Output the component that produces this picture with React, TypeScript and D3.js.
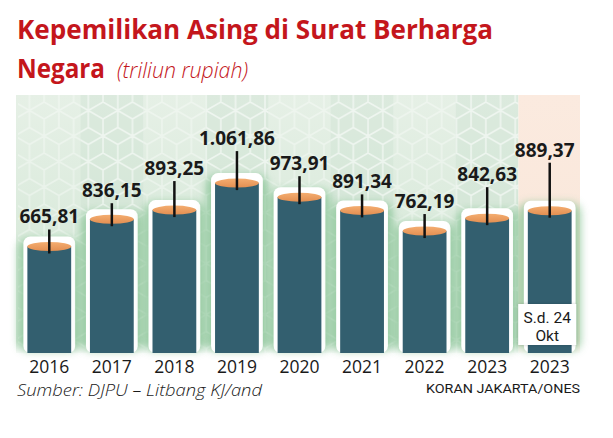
import React from "react";
import * as d3 from "d3";

const years = ["2016", "2017", "2018", "2019", "2020", "2021", "2022", "2023", "2023"];
const values = [665.81, 836.15, 893.25, 1061.86, 973.91, 891.34, 762.19, 842.63, 889.37];
const labelLift = [23, 22, 35, 38, 27, 22, 23, 37, 54];
const noteLines = ["S.d. 24", "Okt"];
const titleLine1 = "Kepemilikan Asing di Surat Berharga";
const titleLine2 = "Negara";
const unitText = "(triliun rupiah)";
const sourceText = "Sumber: DJPU – Litbang KJ/and";
const creditText = "KORAN JAKARTA/ONES";

const W = 613;
const H = 438;
const panelTop = 95;
const baseY = 353;

const idFmt = d3.formatLocale({ decimal: ",", thousands: ".", grouping: [3], currency: ["Rp", ""] }).format(",.2f");

export default function App() {
  const idx = values.map((_, i) => i);
  const x = d3.scaleBand<number>().domain(idx).range([18, 581]).paddingInner(0.3).paddingOuter(0.15);
  const y = d3.scaleLinear().domain([0, 1100]).range([baseY, baseY - 176]);
  const step = x.step();
  const colX = (i: number) => 18 + i * step;
  const bw = x.bandwidth();

  const s = 17;
  const a = s * Math.cos(Math.PI / 6);
  const hex = (cx: number, cy: number) => {
    const pts = [
      [cx, cy - s], [cx + a, cy - s / 2], [cx + a, cy + s / 2], [cx, cy + s], [cx - a, cy + s / 2], [cx - a, cy - s / 2],
    ];
    let d = "M" + pts.map((p) => p.join(",")).join("L") + "Z";
    d += `M${cx},${cy}L${cx - a},${cy - s / 2}M${cx},${cy}L${cx + a},${cy - s / 2}M${cx},${cy}L${cx},${cy + s}`;
    return d;
  };
  const hexPath = [
    hex(a, s), hex(a, 4 * s), hex(a, -2 * s), hex(0, 2.5 * s), hex(2 * a, 2.5 * s), hex(0, -0.5 * s), hex(2 * a, -0.5 * s),
  ].join("");

  return (
    <svg width={W} height={H} style={{ position: "absolute", left: 0, top: 0, background: "#fff" }}>
      <defs>
        <pattern id="cubes" width={2 * a} height={3 * s} patternUnits="userSpaceOnUse">
          <path d={hexPath} fill="none" stroke="#ffffff" strokeWidth={1.6} />
        </pattern>
        <linearGradient id="panelG" x1="0" y1="0" x2="0" y2="1">
          <stop offset="0" stopColor="#e6f0e6" />
          <stop offset="0.6" stopColor="#d9eadb" />
          <stop offset="1" stopColor="#cfe5d3" />
        </linearGradient>
        <linearGradient id="peachG" x1="0" y1="0" x2="0" y2="1">
          <stop offset="0" stopColor="#fbeadf" />
          <stop offset="1" stopColor="#f8e6d8" />
        </linearGradient>
        <linearGradient id="fadeB" x1="0" y1="0" x2="0" y2="1">
          <stop offset="0" stopColor="#fff" stopOpacity={0} />
          <stop offset="1" stopColor="#fff" stopOpacity={1} />
        </linearGradient>
        <linearGradient id="capG" x1="0" y1="0" x2="0" y2="1">
          <stop offset="0" stopColor="#f4ad70" />
          <stop offset="1" stopColor="#e38f52" />
        </linearGradient>
        <filter id="blur" x="-50%" y="-50%" width="200%" height="200%">
          <feGaussianBlur stdDeviation={4} />
        </filter>
        <filter id="shadow" x="-20%" y="-20%" width="140%" height="140%">
          <feDropShadow dx={0} dy={0} stdDeviation={1.5} floodColor="#000" floodOpacity={0.2} />
        </filter>
      </defs>

      {/* Title */}
      <text x={17} y={39} fontFamily="'Open Sans', sans-serif" fontWeight={700} fontSize={26} fill="#c4161c" textLength={476} lengthAdjust="spacingAndGlyphs">
        {titleLine1}
      </text>
      <text x={17} y={78} fontFamily="'Open Sans', sans-serif" fontWeight={700} fontSize={26} fill="#c4161c" textLength={88} lengthAdjust="spacingAndGlyphs">
        {titleLine2}
      </text>
      <text x={117} y={78} fontFamily="'Open Sans', sans-serif" fontStyle="italic" fontWeight={300} fontSize={22} fill="#c4161c" textLength={131} lengthAdjust="spacingAndGlyphs">
        {unitText}
      </text>

      {/* Panel background */}
      <rect x={16} y={panelTop} width={colX(8) - 16} height={baseY - panelTop} fill="url(#panelG)" />
      {idx.slice(0, 8).map((i) => (
        <g key={"col" + i}>
          {i % 2 === 1 && <rect x={colX(i)} y={panelTop} width={step} height={baseY - panelTop} fill="#c9e0cd" opacity={0.35} />}
          <rect x={colX(i)} y={panelTop} width={step} height={baseY - panelTop} fill="url(#cubes)" opacity={i % 2 === 1 ? 0.55 : 0.35} />
        </g>
      ))}
      <rect x={colX(8)} y={panelTop} width={580 - colX(8)} height={baseY - panelTop} fill="url(#peachG)" />
      <rect x={14} y={baseY - 12} width={570} height={14} fill="url(#fadeB)" />

      {/* Bars */}
      {values.map((v, i) => {
        const bx = x(i)!;
        const yt = y(v);
        const rimTop = yt - 10;
        return (
          <g key={"bar" + i}>
            <rect x={bx - 9} y={rimTop + 2} width={bw + 18} height={baseY - rimTop - 4} rx={10} fill="#8fc79b" opacity={0.85} filter="url(#blur)" />
            <rect x={bx - 4} y={rimTop} width={bw + 8} height={baseY - rimTop} rx={7} fill="#ffffff" />
            <rect x={bx} y={yt} width={bw} height={baseY - yt} fill="#335f6f" />
            <ellipse cx={bx + bw / 2} cy={yt} rx={bw / 2} ry={4.5} fill="url(#capG)" />
          </g>
        );
      })}

      {/* Leaders and value labels */}
      {values.map((v, i) => {
        const cx = x(i)! + bw / 2;
        const yt = y(v);
        const by = yt - labelLift[i];
        return (
          <g key={"lab" + i}>
            <line x1={cx} x2={cx} y1={by + 6} y2={yt + 7} stroke="#111" strokeWidth={2.5} />
            <text x={i === 8 ? cx - 5 : cx} y={by} textAnchor="middle" fontFamily="'Open Sans', sans-serif" fontWeight={700} fontSize={19} fill="#1a1a1a">
              {idFmt(v)}
            </text>
          </g>
        );
      })}

      {/* Note box on last bar */}
      <g>
        <rect x={x(8)! + bw / 2 - 31.5} y={304} width={58} height={41} fill="#ffffff" filter="url(#shadow)" />
        {noteLines.map((t, j) => (
          <text key={t} x={x(8)! + bw / 2 - 2.5} y={323 + j * 18} textAnchor="middle" fontFamily="Roboto, sans-serif" fontSize={15.5} fill="#1a1a1a">
            {t}
          </text>
        ))}
      </g>

      {/* Year labels */}
      {years.map((yr, i) => (
        <text key={"yr" + i} x={x(i)! + bw / 2} y={373} textAnchor="middle" fontFamily="'Open Sans', sans-serif" fontSize={17.5} fill="#1a1a1a">
          {yr}
        </text>
      ))}

      {/* Footer */}
      <text x={17} y={396} fontFamily="'Open Sans', sans-serif" fontStyle="italic" fontWeight={300} fontSize={17} fill="#1a1a1a" textLength={245} lengthAdjust="spacingAndGlyphs">
        {sourceText}
      </text>
      <text x={580} y={393} textAnchor="end" fontFamily="Roboto, sans-serif" fontSize={13.5} fill="#1a1a1a" textLength={154} lengthAdjust="spacingAndGlyphs">
        {creditText}
      </text>
    </svg>
  );
}
